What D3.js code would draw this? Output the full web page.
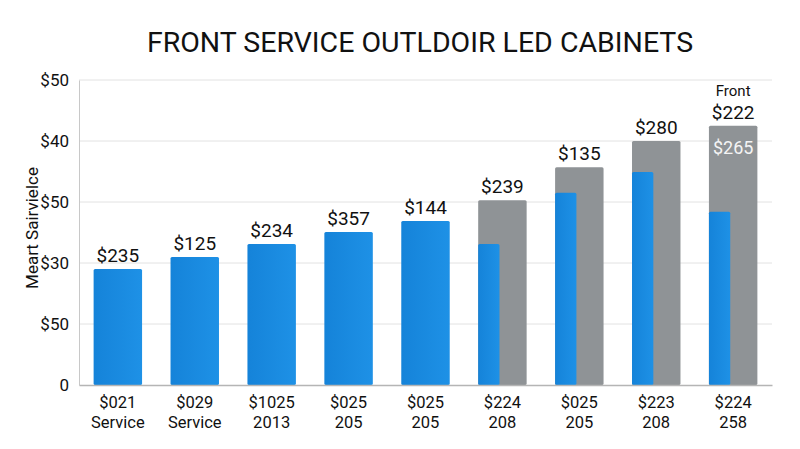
<!DOCTYPE html>
<html>
<head>
<meta charset="utf-8">
<script src="https://cdn.jsdelivr.net/npm/d3@7"></script>
<style>
  body { margin: 0; background: #fff; }
  text { font-family: Roboto, "Liberation Sans", sans-serif; }
</style>
</head>
<body>
<div id="chart"></div>
<script>
// data
const categories = ["c1", "c2", "c3", "c4", "c5", "c6", "c7", "c8", "c9"]
const tickTop = ["$021", "$029", "$1025", "$025", "$025", "$224", "$025", "$223", "$224"]
const tickBottom = ["Service", "Service", "2013", "205", "205", "208", "205", "208", "258"]
const blueValues = [19.0, 21.0, 23.1, 25.1, 26.9, 23.1, 31.5, 34.9, 28.4]
const grayValues = [null, null, null, null, null, 30.3, 35.7, 40.0, 42.5]
const valueLabels = ["$235", "$125", "$234", "$357", "$144", "$239", "$135", "$280", "$222"]
const yTicks = [0, 10, 20, 30, 40, 50]
const yTickLabels = ["0", "$50", "$30", "$50", "$40", "$50"]

async function drawChart() {
  const dataset = categories.map((c, i) => ({
    cat: c, blue: blueValues[i], gray: grayValues[i], label: valueLabels[i]
  }))

  let dimensions = {
    width: 800,
    height: 449,
    margin: { top: 80, right: 28, bottom: 64, left: 79 },
  }
  dimensions.boundedWidth = dimensions.width - dimensions.margin.left - dimensions.margin.right
  dimensions.boundedHeight = dimensions.height - dimensions.margin.top - dimensions.margin.bottom

  const wrapper = d3.select("#chart")
    .append("svg")
      .attr("width", dimensions.width)
      .attr("height", dimensions.height)

  wrapper.append("text")
    .attr("x", 420)
    .attr("y", 52)
    .attr("text-anchor", "middle")
    .style("font-size", "28.5px")
    .style("fill", "#111")
    .text("FRONT SERVICE OUTLDOIR LED CABINETS")

  const bounds = wrapper.append("g")
    .attr("transform", `translate(${dimensions.margin.left},${dimensions.margin.top})`)

  const defs = wrapper.append("defs")
  const grad = defs.append("linearGradient").attr("id", "blueGrad")
    .attr("x1", 0).attr("x2", 1).attr("y1", 0).attr("y2", 0)
  grad.append("stop").attr("offset", "0%").attr("stop-color", "#1583d9")
  grad.append("stop").attr("offset", "100%").attr("stop-color", "#1e91e6")

  // scales
  const xScale = d3.scaleBand()
    .domain(categories)
    .range([0, dimensions.boundedWidth])
    .paddingInner(0.37)
    .paddingOuter(0.19)

  const yScale = d3.scaleLinear()
    .domain([0, 50])
    .range([dimensions.boundedHeight, 0])

  // gridlines
  bounds.append("g")
    .selectAll("line")
    .data(yTicks.slice(1))
    .join("line")
      .attr("x1", 0)
      .attr("x2", dimensions.boundedWidth)
      .attr("y1", d => yScale(d))
      .attr("y2", d => yScale(d))
      .attr("stroke", "#e2e2e2")

  // y axis
  const yAxis = bounds.append("g")
    .call(d3.axisLeft(yScale).tickValues(yTicks).tickSize(0).tickPadding(10)
      .tickFormat((d, i) => yTickLabels[i]))
  yAxis.select(".domain").attr("stroke", "#c8c8c8")
  yAxis.selectAll("text").style("font-size", "17px").style("fill", "#111")
    .style("font-family", "Roboto, sans-serif")

  wrapper.append("text")
    .attr("transform", "translate(38,228) rotate(-90)")
    .attr("text-anchor", "middle")
    .style("font-size", "17px")
    .style("fill", "#111")
    .text("Meart Sairvielce")

  // gray bars
  bounds.selectAll(".gray")
    .data(dataset.filter(d => d.gray != null))
    .join("rect")
      .attr("class", "gray")
      .attr("x", d => xScale(d.cat))
      .attr("y", d => yScale(d.gray))
      .attr("width", xScale.bandwidth())
      .attr("height", d => yScale(0) - yScale(d.gray))
      .attr("rx", 1.5)
      .attr("fill", "#8f9396")

  // blue bars
  bounds.selectAll(".blue")
    .data(dataset)
    .join("rect")
      .attr("class", "blue")
      .attr("x", d => xScale(d.cat))
      .attr("y", d => yScale(d.blue))
      .attr("width", d => d.gray != null ? xScale.bandwidth() * 0.44 : xScale.bandwidth())
      .attr("height", d => yScale(0) - yScale(d.blue))
      .attr("rx", 1.5)
      .attr("fill", "url(#blueGrad)")

  // x axis baseline
  const xAxis = bounds.append("g")
    .attr("transform", `translate(0,${dimensions.boundedHeight})`)
    .call(d3.axisBottom(xScale).tickSize(0).tickFormat(""))
  xAxis.select(".domain").attr("stroke", "#b5b5b5").attr("stroke-width", 1.5)

  const tickLabels = bounds.append("g")
    .selectAll("text")
    .data(dataset)
    .join("text")
      .attr("x", d => xScale(d.cat) + xScale.bandwidth() / 2)
      .attr("y", dimensions.boundedHeight + 23)
      .attr("text-anchor", "middle")
      .style("font-size", "16.5px")
      .style("fill", "#111")
  tickLabels.append("tspan").text((d, i) => tickTop[i])
  tickLabels.append("tspan")
    .attr("x", d => xScale(d.cat) + xScale.bandwidth() / 2)
    .attr("dy", 19.5)
    .text((d, i) => tickBottom[i])

  // value labels
  bounds.selectAll(".val")
    .data(dataset)
    .join("text")
      .attr("class", "val")
      .attr("x", d => xScale(d.cat) + xScale.bandwidth() / 2)
      .attr("y", d => yScale(d.gray != null ? d.gray : d.blue) - 7)
      .attr("text-anchor", "middle")
      .style("font-size", "19px")
      .style("fill", "#111")
      .text(d => d.label)

  // extra labels on the last bar
  const last = dataset[dataset.length - 1]
  bounds.append("text")
    .attr("x", xScale(last.cat) + xScale.bandwidth() / 2)
    .attr("y", yScale(last.gray) - 30)
    .attr("text-anchor", "middle")
    .style("font-size", "15px")
    .style("fill", "#111")
    .text("Front")
  bounds.append("text")
    .attr("x", xScale(last.cat) + xScale.bandwidth() / 2)
    .attr("y", yScale(last.gray) + 28)
    .attr("text-anchor", "middle")
    .style("font-size", "18px")
    .style("fill", "#f4f4f4")
    .text("$265")
}
drawChart()
</script>
</body>
</html>
